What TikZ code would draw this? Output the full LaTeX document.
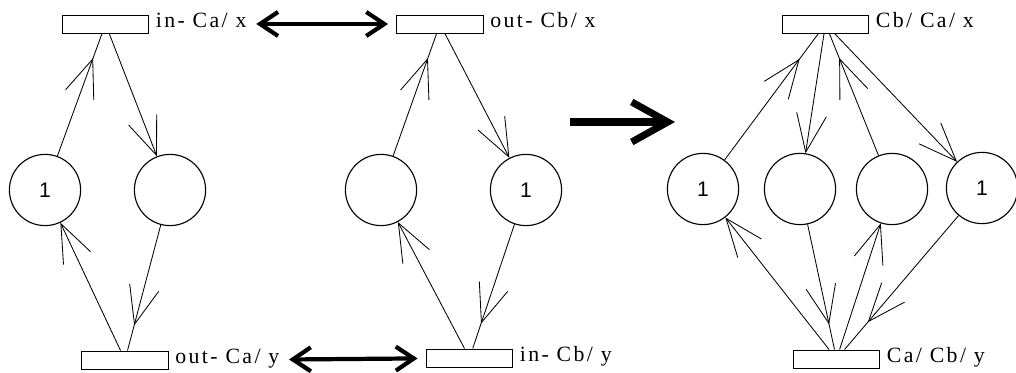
\documentclass[tikz,border=0pt]{standalone}
\usepackage{fontspec}
\setmainfont{Liberation Serif}
\newfontfamily\tokenfont{Liberation Sans}
\usetikzlibrary{arrows.meta}
\usetikzlibrary{decorations.markings}
\usetikzlibrary{positioning}

\begin{document}
\begin{tikzpicture}[x=0.025cm, y=-0.025cm]
\tikzset{
    place/.style={circle, draw, line width=0.8pt, minimum size=1.78cm, inner sep=0pt,
        font=\tokenfont\fontsize{15}{17}\selectfont},
    trans/.style={rectangle, draw, line width=0.7pt, minimum width=2.17cm,
        minimum height=0.45cm, inner sep=0pt},
    lbl/.style={font=\fontsize{15.5}{17}\selectfont\addfontfeatures{LetterSpace=11},
        inner sep=1pt, text height=9pt, text depth=3.4pt},
    barb/.tip={Straight Barb[length=9.5mm,width=7.5mm]},
    toplace/.style={line width=0.6pt, -barb},
    totrans/.style={line width=0.6pt, postaction={decorate},
        decoration={markings, mark=at position 0.8 with {\arrow{barb}}}},
    linkarrow/.style={line width=3pt, shorten <=0.2cm, shorten >=0.2cm,
        {Straight Barb[length=4.5mm,width=6mm]}-{Straight Barb[length=4.5mm,width=6mm]}},
}
\useasboundingbox (0,0) rectangle (1016,373);

% first net
\node[trans] (t1) at (105.5,24) {};
\node[trans] (t2) at (125,360) {};
\node[place] (pa1) at (45,190) {1};
\node[place] (pa2) at (170,190) {};
\node[lbl, right=0.12cm of t1] (l1) {in- Ca/ x};
\node[lbl, right=0.12cm of t2] (l2) {out- Ca/ y};
\draw[totrans] (pa1) -- (t1);
\draw[toplace] (t1) -- (pa2);
\draw[toplace] (t2) -- (pa1);
\draw[totrans] (pa2) -- (t2);

% second net
\node[trans] (tm1) at (440,24) {};
\node[trans] (tm2) at (469.5,358) {};
\node[place] (pb1) at (381,190) {};
\node[place] (pb2) at (526,190) {1};
\node[lbl, right=0.12cm of tm1] (l3) {out- Cb/ x};
\node[lbl, right=0.12cm of tm2] (l4) {in- Cb/ y};
\draw[totrans] (pb1) -- (tm1);
\draw[toplace] (tm1) -- (pb2);
\draw[toplace] (tm2) -- (pb1);
\draw[totrans] (pb2) -- (tm2);

\draw[linkarrow] (l1) -- (tm1);
\draw[linkarrow] (l2) -- (tm2);

% merged net
\coordinate (bigL) at (570,122);
\coordinate (bigR) at (675,122);
\draw[line width=5pt, -{Straight Barb[length=9mm,width=10mm]}] (bigL) -- (bigR);

\node[trans] (tr1) at (825.5,24) {};
\node[trans] (tr2) at (836.5,359) {};
\node[place] (pc1) at (703,189) {1};
\node[place] (pc2) at (800,189) {};
\node[place] (pc3) at (892,189) {};
\node[place] (pc4) at (982,188) {1};
\node[lbl, right=0.12cm of tr1] (l5) {Cb/ Ca/ x};
\node[lbl, right=0.12cm of tr2] (l6) {Ca/ Cb/ y};
\draw[totrans] (pc1) -- (tr1);
\draw[toplace] (tr1) -- (pc2);
\draw[totrans] (pc3) -- (tr1);
\draw[toplace] (tr1) -- (pc4);
\draw[toplace] (tr2) -- (pc1);
\draw[totrans] (pc2) -- (tr2);
\draw[toplace] (tr2) -- (pc3);
\draw[totrans] (pc4) -- (tr2);
\end{tikzpicture}
\end{document}
